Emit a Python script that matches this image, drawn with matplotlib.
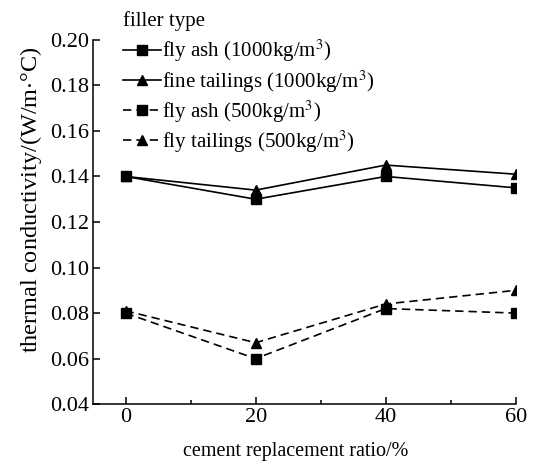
import numpy as np
import matplotlib.pyplot as plt
from matplotlib.ticker import MultipleLocator

plt.rcParams['font.family'] = ['Liberation Serif', 'DejaVu Serif']
plt.rcParams['mathtext.fontset'] = 'stix'

# data
ratio = [0, 20, 40, 60]
flyash_1000 = [0.140, 0.130, 0.140, 0.135]
tailings_1000 = [0.140, 0.134, 0.145, 0.141]
flyash_500 = [0.080, 0.060, 0.082, 0.080]
tailings_500 = [0.081, 0.067, 0.084, 0.090]

labels = ['fly ash (1000kg/m$^3$)', 'fine tailings (1000kg/m$^3$)',
          'fly ash (500kg/m$^3$)', 'fly tailings (500kg/m$^3$)']

fig = plt.figure(figsize=(5.35, 4.63), dpi=100)
ax = fig.add_axes([0.174, 0.127, 0.79, 0.787])

dash = (0, (5, 3))
ax.plot(ratio, flyash_1000, color='black', lw=1.2, marker='s', ms=6.5, label=labels[0])
ax.plot(ratio, tailings_1000, color='black', lw=1.2, marker='^', ms=7.5, label=labels[1])
ax.plot(ratio, flyash_500, color='black', lw=1.2, ls=dash, marker='s', ms=6.5, label=labels[2])
ax.plot(ratio, tailings_500, color='black', lw=1.2, ls=dash, marker='^', ms=7.5, label=labels[3])

ax.set_xlim(-5, 60)
ax.set_ylim(0.04, 0.20)
ax.xaxis.set_major_locator(MultipleLocator(20))
ax.xaxis.set_minor_locator(MultipleLocator(10))
ax.yaxis.set_major_locator(MultipleLocator(0.02))
ax.yaxis.set_major_formatter(plt.FuncFormatter(lambda v, p: f'{v:.2f}'))

for s in ['top', 'right']:
    ax.spines[s].set_visible(False)
for s in ['left', 'bottom']:
    ax.spines[s].set_linewidth(1.1)
ax.tick_params(which='major', direction='in', length=5, width=1.1, labelsize=16, pad=2.5)
ax.tick_params(which='minor', direction='in', length=3, width=1.1)

ax.set_xlabel('cement replacement ratio/%', fontsize=14.5)
ax.xaxis.set_label_coords(0.48, -0.103)
ax.set_ylabel('thermal conductivity/(W/m$\\cdot$°C)', fontsize=17.5)
ax.yaxis.set_label_coords(-0.115, 0.56)

leg = ax.legend(title='filler type', loc='upper left', bbox_to_anchor=(0.205, 1.005),
                bbox_transform=fig.transFigure, frameon=False, fontsize=15,
                title_fontsize=15, handlelength=1.8, handletextpad=0.05,
                labelspacing=0.18, borderpad=0.15)
leg._legend_box.align = 'left'
leg._legend_box.sep = 5

fig.savefig('out.png', dpi=100)
